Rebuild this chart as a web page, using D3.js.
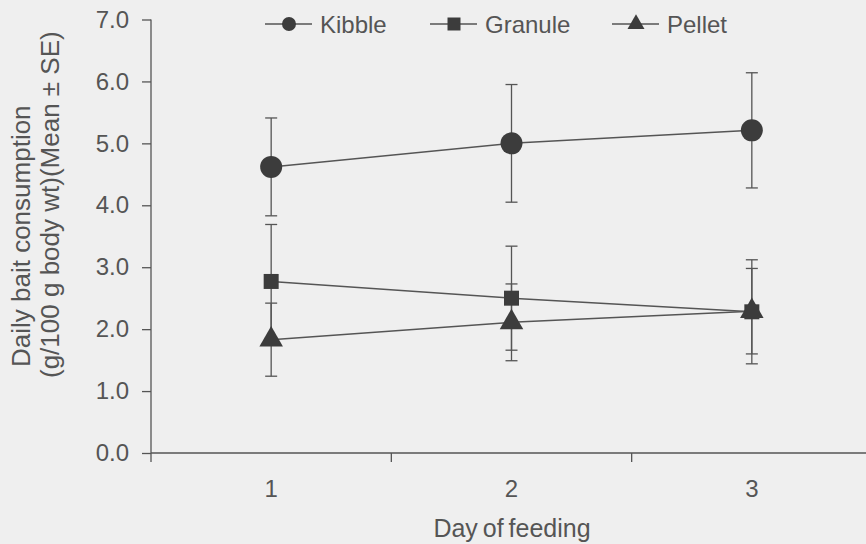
<!DOCTYPE html>
<html>
<head>
<meta charset="utf-8">
<script src="https://cdn.jsdelivr.net/npm/d3@7"></script>
<style>
  body { margin: 0; background: #efefef; }
  svg { display: block; font-family: "Liberation Sans", Arial, sans-serif; }
</style>
</head>
<body>
<div id="chart"></div>
<script>
// data
var days = ['1', '2', '3']
var seriesNames = ['Kibble', 'Granule', 'Pellet']
var kibbleMean = [4.62, 5.0, 5.21]
var kibbleSE = [0.79, 0.95, 0.93]
var granuleMean = [2.77, 2.50, 2.28]
var granuleSE = [0.92, 0.84, 0.84]
var pelletMean = [1.83, 2.11, 2.29]
var pelletSE = [0.59, 0.62, 0.69]
var yTicks = [0, 1, 2, 3, 4, 5, 6, 7]

var width = 866, height = 544
var ink = '#555', markInk = '#3c3c3c'

var svg = d3.select('#chart').append('svg')
    .attr('width', width).attr('height', height)

svg.append('rect').attr('width', width).attr('height', height).attr('fill', '#efefef')

var x = d3.scaleBand().domain(days).range([151, 872])
var y = d3.scaleLinear().domain([0, 7]).range([453, 19.5])

var series = [
    { name: seriesNames[0], mean: kibbleMean, se: kibbleSE, shape: d3.symbolCircle, size: 380, legendSize: 154 },
    { name: seriesNames[1], mean: granuleMean, se: granuleSE, shape: d3.symbolSquare, size: 225, legendSize: 169 },
    { name: seriesNames[2], mean: pelletMean, se: pelletSE, shape: d3.symbolTriangle, size: 240, legendSize: 125 }
]

// y axis
var yAxis = svg.append('g')
    .attr('transform', 'translate(151,0)')
    .call(d3.axisLeft(y).tickValues(yTicks).tickFormat(d3.format('.1f')).tickSize(9).tickPadding(13))
yAxis.select('.domain').remove()
yAxis.selectAll('line').attr('stroke', ink).attr('stroke-width', 1.3)
yAxis.selectAll('text').attr('fill', ink).style('font-size', '24px')
svg.append('line')
    .attr('x1', 151).attr('x2', 151).attr('y1', y(7)).attr('y2', y(0) + 9)
    .attr('stroke', ink).attr('stroke-width', 1.3)

// x axis: ticks at category boundaries, labels at centres
svg.append('line')
    .attr('x1', 151).attr('x2', width).attr('y1', y(0)).attr('y2', y(0))
    .attr('stroke', ink).attr('stroke-width', 1.3)
svg.selectAll('.xtick')
    .data(days.slice(1))
    .join('line')
    .attr('x1', d => x(d)).attr('x2', d => x(d))
    .attr('y1', y(0)).attr('y2', y(0) + 9)
    .attr('stroke', ink).attr('stroke-width', 1.3)
svg.selectAll('.xlab')
    .data(days)
    .join('text')
    .attr('x', d => x(d) + x.bandwidth() / 2)
    .attr('y', 497)
    .attr('text-anchor', 'middle')
    .attr('fill', ink)
    .style('font-size', '24px')
    .text(d => d)

svg.append('text')
    .attr('x', 512).attr('y', 537)
    .attr('text-anchor', 'middle')
    .attr('fill', ink)
    .style('font-size', '25px')
    .style('word-spacing', '-2px')
    .text('Day of feeding')

// y title, two lines
var yTitle = svg.append('text')
    .attr('transform', 'translate(30,370) rotate(-90)')
    .attr('fill', ink)
    .style('font-size', '26px')
    .attr('text-anchor', 'start')
yTitle.append('tspan').attr('x', 3).attr('y', 0).text('Daily bait consumption')
yTitle.append('tspan').attr('x', -8).attr('y', 29).text('(g/100 g body wt)(Mean ± SE)')

var cx = d => x(d) + x.bandwidth() / 2

// error bars
series.forEach(s => {
    var g = svg.append('g').attr('stroke', ink).attr('stroke-width', 1.3)
    days.forEach((d, i) => {
        var top = y(s.mean[i] + s.se[i]), bot = y(s.mean[i] - s.se[i])
        g.append('line').attr('x1', cx(d)).attr('x2', cx(d)).attr('y1', top).attr('y2', bot)
        g.append('line').attr('x1', cx(d) - 6).attr('x2', cx(d) + 6).attr('y1', top).attr('y2', top)
        g.append('line').attr('x1', cx(d) - 6).attr('x2', cx(d) + 6).attr('y1', bot).attr('y2', bot)
    })
})

// connecting lines
var line = d3.line().x((v, i) => cx(days[i])).y(v => y(v))
series.forEach(s => {
    svg.append('path').attr('d', line(s.mean))
        .attr('fill', 'none').attr('stroke', ink).attr('stroke-width', 1.5)
})

// markers
series.forEach(s => {
    svg.selectAll(null)
        .data(s.mean)
        .join('path')
        .attr('transform', (v, i) => `translate(${cx(days[i])},${y(v)})`)
        .attr('d', d3.symbol().type(s.shape).size(s.size))
        .attr('fill', markInk)
})

// legend
var legendX = [289, 454, 636]
series.forEach((s, i) => {
    var g = svg.append('g').attr('transform', `translate(${legendX[i]},24)`)
    g.append('line').attr('x1', -24).attr('x2', 23).attr('y1', 0).attr('y2', 0)
        .attr('stroke', ink).attr('stroke-width', 1.5)
    g.append('path').attr('d', d3.symbol().type(s.shape).size(s.legendSize)).attr('fill', markInk)
    g.append('text').attr('x', 31).attr('y', 8.5)
        .attr('fill', ink).style('font-size', '24px')
        .text(s.name)
})
</script>
</body>
</html>
